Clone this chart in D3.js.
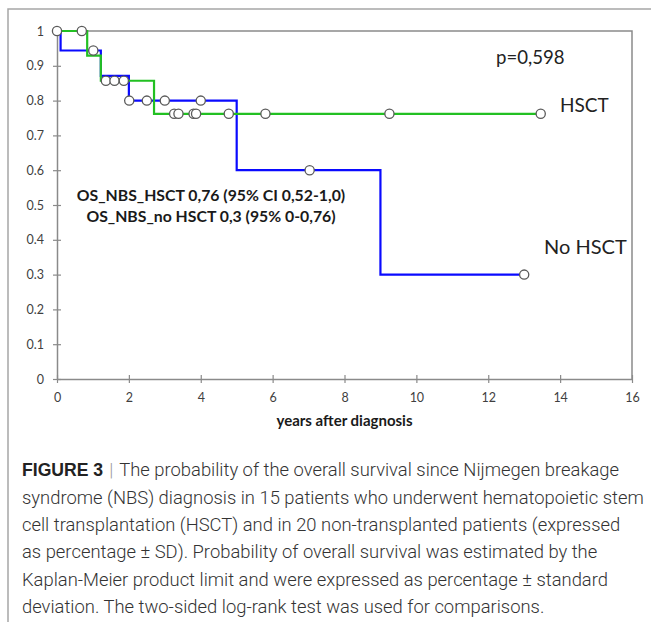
<!DOCTYPE html>
<html>
<head>
<meta charset="utf-8">
<script src="https://cdn.jsdelivr.net/npm/d3@7"></script>
<style>
  body { margin: 0; background: #fff; }
  svg { display: block; }
</style>
</head>
<body>
<svg width="651" height="622"></svg>
<script>
const svg = d3.select("svg");
const width = +svg.attr("width");
const height = +svg.attr("height");

// Kaplan-Meier steps: time (years) and survival after the step
const hsctTimes = [0, 0.84, 1.22, 2.7];
const hsctSurv = [1, 0.929, 0.857, 0.762];
const hsctEnd = 13.46;
const hsctCensored = [0.69, 1.36, 1.6, 1.86, 3.26, 3.38, 3.8, 3.87, 4.78, 5.8, 9.25, 13.46];

const noTimes = [0, 0.1, 1.22, 2.0, 5.0, 9.0];
const noSurv = [1, 0.944, 0.871, 0.8, 0.6, 0.3];
const noEnd = 13.0;
const noCensored = [0, 1.01, 2.01, 2.5, 3.0, 4.0, 7.03, 13.0];

const xTicks = [0, 2, 4, 6, 8, 10, 12, 14, 16];
const yTicks = [0, 0.1, 0.2, 0.3, 0.4, 0.5, 0.6, 0.7, 0.8, 0.9, 1];

const captionLines = [
  "syndrome (NBS) diagnosis in 15 patients who underwent hematopoietic stem",
  "cell transplantation (HSCT) and in 20 non-transplanted patients (expressed",
  "as percentage \u00B1 SD). Probability of overall survival was estimated by the",
  "Kaplan-Meier product limit and were expressed as percentage \u00B1 standard",
  "deviation. The two-sided log-rank test was used for comparisons."
];

const chartFont = "Lato, 'Open Sans', sans-serif";
const axisGray = "#8a8a8a";

// outer figure frame (cut off on right and bottom)
svg.append("path")
  .attr("d", `M${width},9 H8 V${height}`)
  .attr("fill", "none")
  .attr("stroke", "#a6a6a6")
  .attr("stroke-width", 1.5);

const x = d3.scaleLinear().domain([0, 16]).range([57, 632]);
const y = d3.scaleLinear().domain([0, 1]).range([379, 31]);

// plot area border (top and right)
svg.append("path")
  .attr("d", `M${x(0)},${y(1)} H${x(16)} V${y(0)}`)
  .attr("fill", "none")
  .attr("stroke", axisGray)
  .attr("stroke-width", 1.5);

// y axis, ticks cross the line
const yAxis = svg.append("g")
  .attr("transform", `translate(${x(0)},0)`)
  .call(d3.axisLeft(y).tickValues(yTicks).tickSize(4).tickPadding(9)
    .tickSizeOuter(0).tickFormat(d3.format("~g")));
yAxis.selectAll(".tick line").attr("x1", 4);

// x axis, ticks cross the line
const xAxis = svg.append("g")
  .attr("transform", `translate(0,${y(0)})`)
  .call(d3.axisBottom(x).tickValues(xTicks).tickSize(4).tickPadding(10).tickSizeOuter(0));
xAxis.selectAll(".tick line").attr("y1", -4);

[xAxis, yAxis].forEach(g => {
  g.attr("font-size", 12.5).attr("font-family", chartFont);
  g.select(".domain").attr("stroke", axisGray).attr("stroke-width", 1.5);
  g.selectAll(".tick line").attr("stroke", axisGray).attr("stroke-width", 1.2);
  g.selectAll(".tick text").attr("fill", "#3f3f3f");
});

svg.append("text")
  .attr("x", x(8))
  .attr("y", 426)
  .attr("text-anchor", "middle")
  .attr("font-family", chartFont)
  .attr("font-weight", "bold")
  .attr("font-size", 15)
  .attr("fill", "#1a1a1a")
  .text("years after diagnosis");

// step curves
function stepData(times, surv, end) {
  const pts = times.map((t, i) => [t, surv[i]]);
  pts.push([end, surv[surv.length - 1]]);
  return pts;
}
function survAt(times, surv, t) {
  let s = surv[0];
  times.forEach((tt, i) => { if (t >= tt) s = surv[i]; });
  return s;
}

const line = d3.line()
  .x(d => x(d[0]))
  .y(d => y(d[1]))
  .curve(d3.curveStepAfter);

const curves = [
  { times: noTimes, surv: noSurv, end: noEnd, cens: noCensored, color: "#0a0aff" },
  { times: hsctTimes, surv: hsctSurv, end: hsctEnd, cens: hsctCensored, color: "#22c022" }
];

svg.append("g")
  .selectAll("path")
  .data(curves)
  .join("path")
  .attr("d", d => line(stepData(d.times, d.surv, d.end)))
  .attr("fill", "none")
  .attr("stroke", d => d.color)
  .attr("stroke-width", 2.2);

const marks = curves.flatMap(c => c.cens.map(t => ({ t, s: survAt(c.times, c.surv, t) })));

svg.append("g")
  .selectAll("circle")
  .data(marks)
  .join("circle")
  .attr("cx", d => x(d.t))
  .attr("cy", d => y(d.s))
  .attr("r", 4.6)
  .attr("fill", "#fff")
  .attr("stroke", "#5a5a5a")
  .attr("stroke-width", 1.3);

// annotations
svg.append("text")
  .attr("x", 496).attr("y", 64)
  .attr("font-family", chartFont).attr("font-size", 18.6)
  .attr("fill", "#222")
  .text("p=0,598");

svg.append("text")
  .attr("x", 560).attr("y", 112)
  .attr("font-family", chartFont).attr("font-size", 19)
  .attr("fill", "#222")
  .text("HSCT");

svg.append("text")
  .attr("x", 544).attr("y", 254)
  .attr("font-family", chartFont).attr("font-size", 20)
  .attr("fill", "#222")
  .text("No HSCT");

const stats = svg.append("text")
  .attr("text-anchor", "middle")
  .attr("font-family", chartFont).attr("font-weight", "bold").attr("font-size", 15.8)
  .attr("fill", "#1a1a1a");
stats.append("tspan").attr("x", 211).attr("y", 201).text("OS_NBS_HSCT 0,76 (95% CI 0,52-1,0)");
stats.append("tspan").attr("x", 211).attr("y", 222).text("OS_NBS_no HSCT 0,3 (95% 0-0,76)");

// caption
const capFont = "Roboto, 'Liberation Sans', sans-serif";
const cap = svg.append("g")
  .attr("font-family", capFont)
  .attr("font-size", 18.4)
  .attr("fill", "#333");

const first = cap.append("text").attr("x", 22).attr("y", 476);
first.append("tspan")
  .attr("font-family", "'Liberation Sans', Arial, sans-serif")
  .attr("font-weight", "bold").attr("font-size", 17.6).attr("fill", "#222")
  .text("FIGURE 3");
first.append("tspan").attr("fill", "#999").attr("font-weight", 300).attr("dx", 6).text("|");
first.append("tspan").attr("font-weight", 300).attr("dx", 6)
  .text("The probability of the overall survival since Nijmegen breakage");

cap.selectAll("text.line")
  .data(captionLines)
  .join("text")
  .attr("class", "line")
  .attr("x", 22)
  .attr("y", (d, i) => 503.5 + i * 27.4)
  .attr("font-weight", 300)
  .text(d => d);
</script>
</body>
</html>
